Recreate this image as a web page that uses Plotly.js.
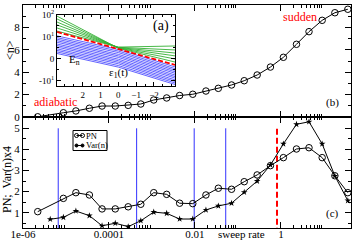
<!DOCTYPE html>
<html><head><meta charset="utf-8">
<script src="https://cdn.plot.ly/plotly-3.0.1.min.js"></script>
<style>html,body{margin:0;padding:0;background:#fff;}#chart{width:353px;height:241px;}</style>
</head><body><div id="chart"></div>
<script>
// ---- data ----
const sweepRateTop = [5.5e-7, 2.2e-6, 8.7e-6, 1.7e-5, 3.5e-5, 6.9e-5, 1.4e-4, 2.8e-4, 5.5e-4, 1.1e-3, 2.2e-3, 4.4e-3, 8.9e-3, 0.018, 0.035, 0.071, 0.14, 0.28, 0.57, 1.14, 2.3, 4.5, 9.1, 18, 36];
const meanN = [0, 0.02, 0.38, 0.54, 0.78, 0.98, 0.98, 1.04, 1.16, 1.52, 1.70, 1.92, 2.03, 2.32, 2.56, 2.86, 3.24, 3.75, 4.46, 5.33, 6.49, 7.62, 8.63, 9.31, 9.62];

const sweepRatePN = [2.2e-6, 8.7e-6, 1.7e-5, 3.5e-5, 6.9e-5, 1.4e-4, 2.8e-4, 5.5e-4, 1.1e-3, 2.2e-3, 4.4e-3, 8.9e-3, 0.018, 0.035, 0.071, 0.14, 0.28, 0.57, 1.14, 2.3, 4.5, 9.1, 18, 36];
const pnValues = [1.05, 1.68, 1.95, 1.84, 1.18, 1.18, 1.28, 1.40, 1.95, 1.87, 1.45, 1.43, 1.84, 2.16, 2.11, 2.47, 2.79, 3.23, 3.61, 4.02, 4.08, 3.61, 2.75, 1.95];

const sweepRateVar = [4.3e-6, 8.7e-6, 1.7e-5, 3.5e-5, 6.9e-5, 1.4e-4, 2.8e-4, 5.5e-4, 1.1e-3, 2.2e-3, 4.4e-3, 8.9e-3, 0.018, 0.035, 0.071, 0.14, 0.28, 0.57, 1.14, 2.3, 4.5, 9.1, 18, 36];
const varValues = [0.69, 0.78, 1.08, 0.86, 0.38, 0.50, 0.34, 0.62, 1.03, 0.97, 0.70, 0.70, 1.13, 1.32, 1.45, 1.97, 2.50, 3.26, 4.26, 5.19, 5.31, 4.26, 2.74, 1.57];

const blueLineX = [6.6e-6, 4.4e-4, 9.6e-3, 0.052];
const redLineX = 0.81;
const markerLineY = [0, 5];

const xTickVals = [1e-6, 1e-4, 1e-2, 1];
const xTickText = ['1e-06', '0.0001', '0.01', '1'];
const xMinorVals = [2e-6,3e-6,4e-6,5e-6,6e-6,7e-6,8e-6,9e-6, 2e-4,3e-4,4e-4,5e-4,6e-4,7e-4,8e-4,9e-4, 0.02,0.03,0.04,0.05,0.06,0.07,0.08,0.09, 2,3,4,5,6,7,8,9];

// inset (a): energy levels vs eps1(t), symlog-like y scale
const insetEps = [3.44, 0, -3.18];
const greenLeft  = [1.95, 1.82, 1.68, 1.55, 1.41, 1.27];
const greenMid   = [0.49, 0.50, 0.51, 0.52, 0.53, 0.54];
const greenRight = [-0.14, 0.00, 0.14, 0.27, 0.41, 0.59];
const redLevel   = [1.23, 0.45, -0.27];
const blueLeft  = [1.05, 0.97, 0.90, 0.83, 0.76, 0.68, 0.61, 0.54, 0.46, 0.39, 0.32, 0.25];
const blueMid   = [0.43, 0.36, 0.29, 0.21, 0.14, 0.07, -0.01, -0.08, -0.15, -0.22, -0.30, -0.37];
const blueRight = [-0.36, -0.44, -0.51, -0.58, -0.65, -0.73, -0.80, -0.87, -0.95, -1.02, -1.09, -1.16];
const insetXTicks = [2, 1, 0, -1, -2];
const insetYTicks = [-1, 0, 1, 2];
const insetYText = ['-10<sup>1</sup>', '0', '10<sup>1</sup>', '10<sup>2</sup>'];

// ---- layout helpers (pixel -> paper) ----
const L = 23, T = 5, W = 328, H = 223;
const px = v => (v - L) / W;
const py = v => (T + H - v) / H;
const split = (228 - 117) / H;
const FONT = 'Liberation Serif, Times New Roman, serif';

const traces = [];
traces.push({x: sweepRateTop, y: meanN, xaxis: 'x2', yaxis: 'y2', mode: 'lines+markers',
  line: {color: '#000', width: 1}, marker: {symbol: 'circle-open', size: 6.5, color: '#000', line: {width: 1}},
  showlegend: false, hoverinfo: 'skip'});
blueLineX.forEach(v => traces.push({x: [v, v], y: markerLineY, xaxis: 'x', yaxis: 'y', mode: 'lines',
  line: {color: '#3232ff', width: 1}, showlegend: false, hoverinfo: 'skip'}));
traces.push({x: [redLineX, redLineX], y: markerLineY, xaxis: 'x', yaxis: 'y', mode: 'lines',
  line: {color: '#ff0000', width: 2, dash: '6px,3px'}, showlegend: false, hoverinfo: 'skip'});
traces.push({x: sweepRatePN, y: pnValues, xaxis: 'x', yaxis: 'y', mode: 'lines+markers', name: 'PN',
  line: {color: '#000', width: 1}, marker: {symbol: 'circle-open', size: 6.5, color: '#000', line: {width: 1}},
  showlegend: false, hoverinfo: 'skip'});
traces.push({x: sweepRateVar, y: varValues, xaxis: 'x', yaxis: 'y', mode: 'lines+markers', name: 'Var(n)',
  line: {color: '#000', width: 1}, marker: {symbol: 'star', size: 5, color: '#000'},
  showlegend: false, hoverinfo: 'skip'});
for (let i = 0; i < greenLeft.length; i++) {
  traces.push({x: insetEps, y: [greenLeft[i], greenMid[i], greenRight[i]], xaxis: 'x3', yaxis: 'y3', mode: 'lines',
    line: {color: '#33b033', width: 0.9}, showlegend: false, hoverinfo: 'skip'});
}
for (let i = 0; i < blueLeft.length; i++) {
  traces.push({x: insetEps, y: [blueLeft[i], blueMid[i], blueRight[i]], xaxis: 'x3', yaxis: 'y3', mode: 'lines',
    line: {color: '#3a3aff', width: 0.8}, showlegend: false, hoverinfo: 'skip'});
}
traces.push({x: insetEps, y: redLevel, xaxis: 'x3', yaxis: 'y3', mode: 'lines',
  line: {color: '#ff0000', width: 1.8, dash: '5px,2px'}, showlegend: false, hoverinfo: 'skip'});

const axBase = {showline: true, linecolor: '#000', linewidth: 1, mirror: 'allticks', ticks: 'inside',
  tickcolor: '#000', ticklen: 6, tickwidth: 1, showgrid: false, zeroline: false,
  tickfont: {family: FONT, size: 11, color: '#000'}};
const xLog = Object.assign({}, axBase, {type: 'log', range: [-6, 1.63], tickmode: 'array',
  tickvals: xTickVals, ticktext: xTickText, ticklabelstandoff: -4,
  minor: {tickmode: 'array', tickvals: xMinorVals, ticks: 'inside', ticklen: 3, tickcolor: '#000', showgrid: false}});

// legend built from shapes/annotations
const shapes = [];
const ann = [];
function circ(cx, cy, r, fill) {
  shapes.push({type: 'circle', xref: 'paper', yref: 'paper', x0: px(cx - r), x1: px(cx + r), y0: py(cy + r), y1: py(cy - r),
    line: {color: '#000', width: 1}, fillcolor: fill ? '#000' : 'rgba(0,0,0,0)'});
}
const row1 = 135.5, row2 = 145.5;
shapes.push({type: 'rect', xref: 'paper', yref: 'paper', x0: px(73), x1: px(107), y0: py(150.5), y1: py(130.5),
  line: {color: '#000', width: 1}, fillcolor: '#fff'});
shapes.push({type: 'line', xref: 'paper', yref: 'paper', x0: px(76.5), x1: px(82.5), y0: py(row1), y1: py(row1), line: {color: '#000', width: 1}});
shapes.push({type: 'line', xref: 'paper', yref: 'paper', x0: px(76.5), x1: px(82.5), y0: py(row2), y1: py(row2), line: {color: '#000', width: 1}});
circ(76.5, row1, 2, false); circ(82.5, row1, 2, false);
circ(76.5, row2, 1.5, true); circ(82.5, row2, 1.5, true);

function note(text, x, y, size, opts) {
  ann.push(Object.assign({text: text, xref: 'paper', yref: 'paper', x: px(x), y: py(y), showarrow: false,
    xanchor: 'center', yanchor: 'middle', borderpad: 0, font: {family: FONT, size: size, color: '#000'}}, opts || {}));
}
note('PN', 84.5, row1, 8.5, {xanchor: 'left'});
note('Var(n)', 84.5, row2, 8.5, {xanchor: 'left'});
note('&lt;n&gt;', 10, 50, 12, {textangle: -90});
note('PN;&nbsp; Var(n)x4', 7, 180, 12, {textangle: -90});
note('adiabatic', 55, 102, 12, {font: {family: FONT, size: 12, color: '#ff0000'}});
note('sudden', 300, 17, 12, {font: {family: FONT, size: 12, color: '#ff0000'}});
note('(b)', 332, 102, 11);
note('(c)', 332, 213, 11);
note('(a)', 161, 26, 14);
note('E<sub>n</sub>', 74, 60, 11);
note('ε<sub>1</sub>(t)', 118, 73, 11);
note('sweep rate', 241, 234, 11);

const layout = {
  width: 353, height: 241, margin: {l: L, r: 2, t: T, b: 13},
  paper_bgcolor: '#fff', plot_bgcolor: '#fff', showlegend: false,
  font: {family: FONT, color: '#000'},
  xaxis: Object.assign({}, xLog, {anchor: 'y', domain: [0, 1]}),
  xaxis2: Object.assign({}, xLog, {anchor: 'y2', domain: [0, 1], showticklabels: false}),
  yaxis: Object.assign({}, axBase, {anchor: 'x', domain: [0, split], range: [0.275, 5.536], tick0: 0, dtick: 1,
    minor: {dtick: 0.5, ticks: 'inside', ticklen: 3, tickcolor: '#000', showgrid: false}}),
  yaxis2: Object.assign({}, axBase, {anchor: 'x2', domain: [split, 1], range: [0, 10], tick0: 0, dtick: 2,
    minor: {dtick: 1, ticks: 'inside', ticklen: 3, tickcolor: '#000', showgrid: false}}),
  xaxis3: Object.assign({}, axBase, {anchor: 'y3', domain: [px(57), px(175)], range: [3.44, -3.18],
    tickmode: 'array', tickvals: insetXTicks, ticklen: 4, tickfont: {family: FONT, size: 9, color: '#000'},
    minor: {dtick: 0.5, ticks: 'inside', ticklen: 2, tickcolor: '#000', showgrid: false}}),
  yaxis3: Object.assign({}, axBase, {anchor: 'x3', domain: [py(86), py(15)], range: [-1.23, 2.0],
    tickmode: 'array', tickvals: insetYTicks, ticktext: insetYText, ticklen: 4, tickfont: {family: FONT, size: 9, color: '#000'},
    minor: {dtick: 0.5, ticks: 'inside', ticklen: 2, tickcolor: '#000', showgrid: false}}),
  shapes: shapes,
  annotations: ann
};
Plotly.newPlot('chart', traces, layout, {staticPlot: true, displayModeBar: false});
</script>
</body></html>
